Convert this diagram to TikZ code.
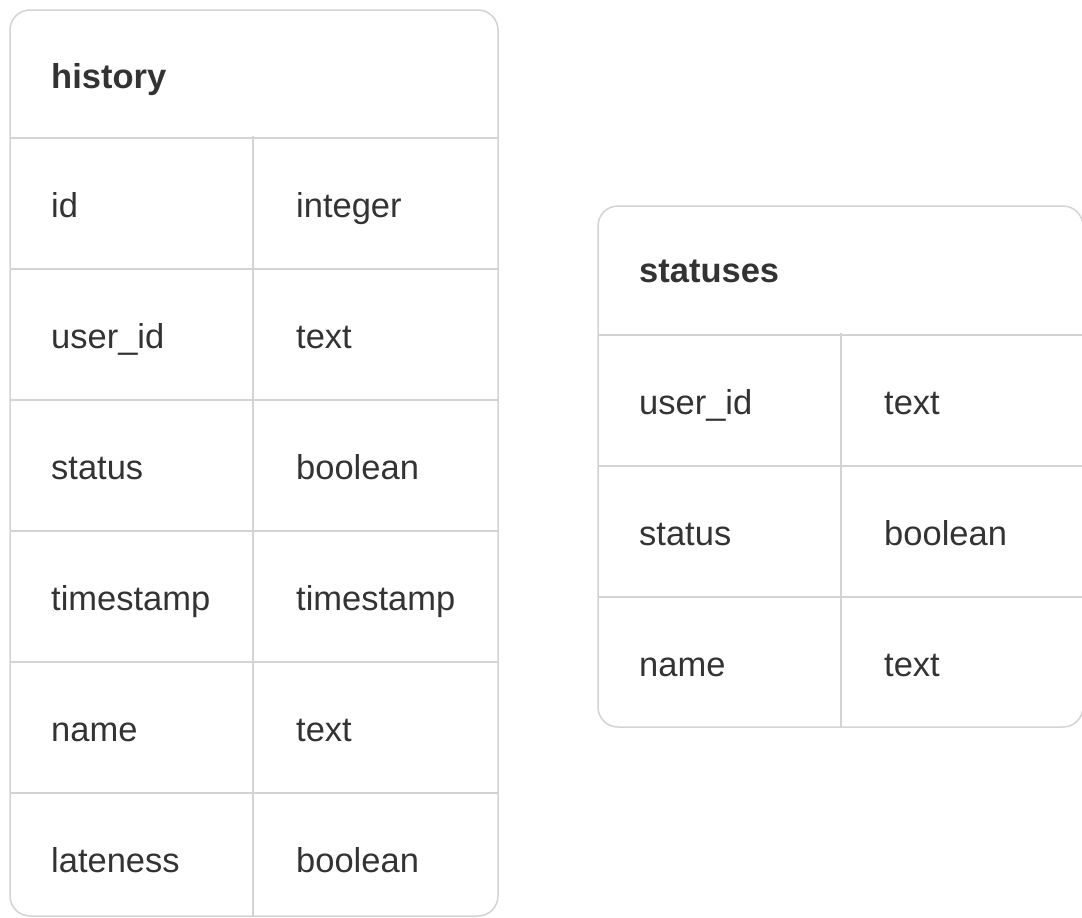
\documentclass[tikz,border=0pt]{standalone}
\usepackage{fontspec}
\setmainfont{Liberation Sans}
\usetikzlibrary{calc}
\definecolor{gridgray}{HTML}{D3D3D3}
\definecolor{inkgray}{HTML}{333333}

\tikzset{
  cell/.style={anchor=base west,inner sep=0pt,text=inkgray,font=\fontsize{34.5}{40}\selectfont},
  title/.style={cell,font=\fontsize{34.5}{40}\selectfont\bfseries},
  rule/.style={draw=gridgray,line width=1.5pt}
}

\begin{document}
\begin{tikzpicture}[x=1pt,y=-1pt]
\useasboundingbox (0,0) rectangle (1082,918);
\clip (0,0) rectangle (1082,918);

% history table
\draw[rule,rounded corners=20pt] (10,10) rectangle (498,916);
\draw[rule] (253,136)--(253,916);
\node[title] (histhead) at (51,88) {history};
\foreach \field/\kind [count=\i from 0] in {id/integer,user\_id/text,status/boolean,timestamp/timestamp,name/text,lateness/boolean}{
  \draw[rule] (10,138+131*\i)--(498,138+131*\i);
  \node[cell] (hf\i) at (51,217+131*\i) {\field};
  \node[cell] (hk\i) at (296,217+131*\i) {\kind};
}

% statuses table
\draw[rule,rounded corners=20pt] (598,206) rectangle (1083,727);
\draw[rule] (841,333)--(841,727);
\node[title] (stathead) at (639,282) {statuses};
\foreach \field/\kind [count=\i from 0] in {user\_id/text,status/boolean,name/text}{
  \draw[rule] (598,335+131*\i)--(1083,335+131*\i);
  \node[cell] (sf\i) at (639,414+131*\i) {\field};
  \node[cell] (sk\i) at (884,414+131*\i) {\kind};
}

\end{tikzpicture}
\end{document}
